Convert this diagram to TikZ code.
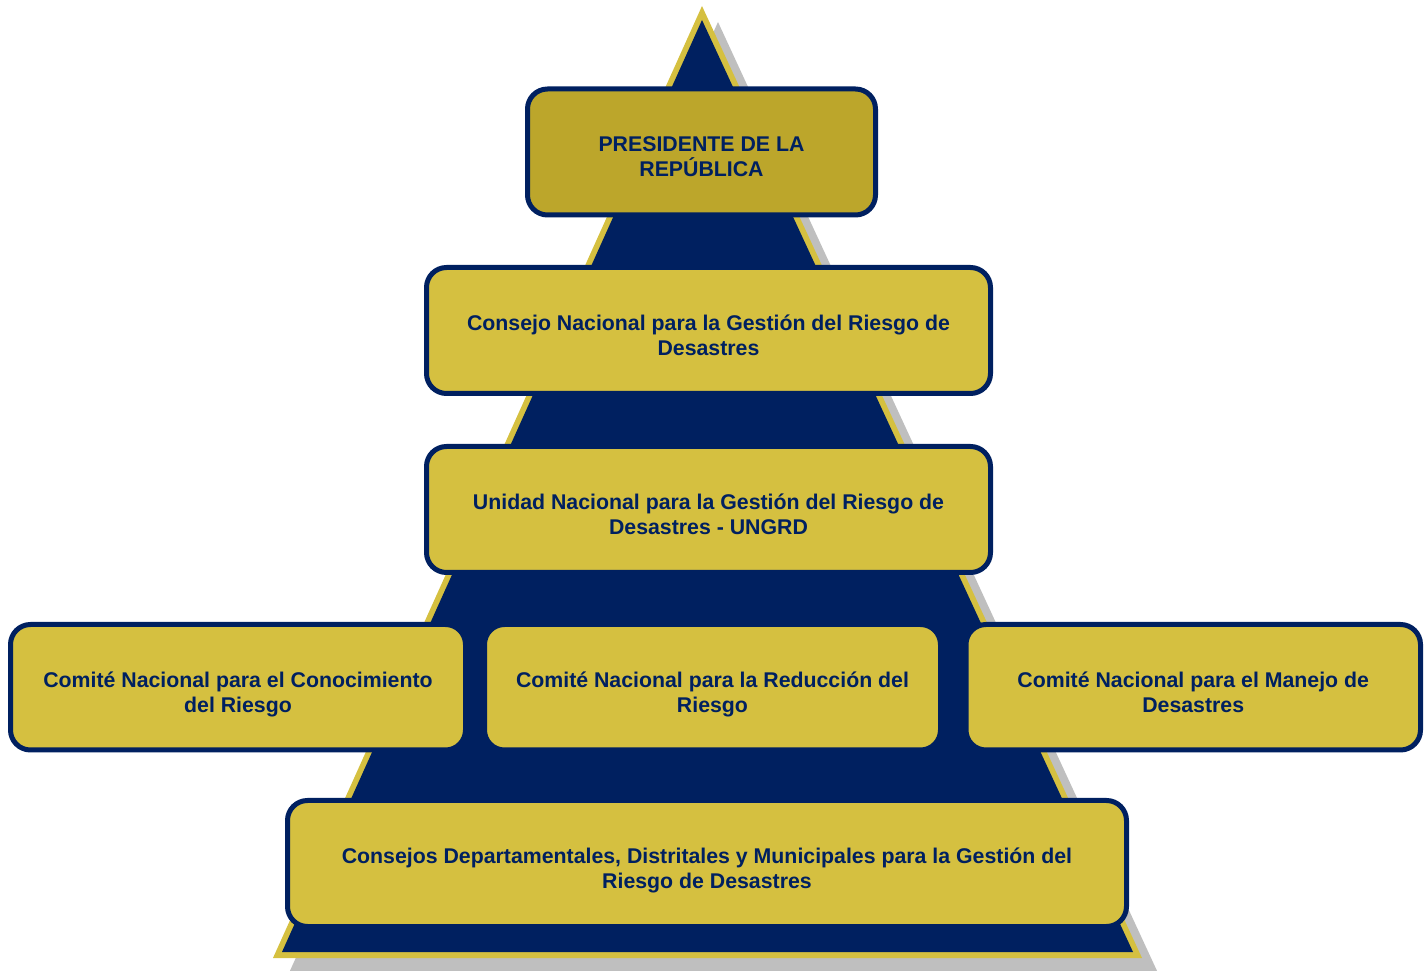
\documentclass[tikz,border=0pt]{standalone}
\usepackage{fontspec}
\setmainfont{Liberation Sans}
\definecolor{navy}{HTML}{002060}
\definecolor{gold}{HTML}{D5C040}
\definecolor{darkgold}{HTML}{BCA62B}
\definecolor{shadowgray}{HTML}{BFBFBF}
\tikzset{
  box/.style={draw=navy, line width=5pt, rounded corners=20pt, fill=gold, inner sep=0pt},
  boxtext/.style={anchor=base, yshift=-25pt, align=center, text=navy, font=\bfseries\fontsize{21.3}{25}\selectfont, inner sep=0pt}
}
\begin{document}
\begin{tikzpicture}[x=1pt,y=1pt]
\useasboundingbox (0,0) rectangle (1428,970);
% pyramid
\fill[shadowgray] (718,948) -- (289,-3) -- (1158,-3) -- cycle;
\fill[gold] (702,964) -- (273,12) -- (1142,12) -- cycle;
\fill[navy] (702,950) -- (282,18) -- (1133,18) -- cycle;
% boxes
\node[box, fill=darkgold, minimum width=348pt, minimum height=126pt] (pres) at (701.5,818) {};
\node[box, minimum width=564pt, minimum height=126pt] (cnsj) at (708.5,639.5) {};
\node[box, minimum width=564pt, minimum height=126pt] (ungrd) at (708.5,460.5) {};
\node[box, minimum width=455pt, minimum height=125.5pt] (ccr) at (238,282.75) {};
\node[box, minimum width=456pt, minimum height=125.5pt] (crr) at (712.5,282.75) {};
\node[box, minimum width=454.5pt, minimum height=125.5pt] (cmd) at (1193.25,282.75) {};
\node[box, minimum width=839pt, minimum height=126pt] (cdm) at (707,106.5) {};
% texts
\node[boxtext] (pres-t) at (pres.center) {PRESIDENTE DE LA\\REPÚBLICA};
\node[boxtext] (cnsj-t) at (cnsj.center) {Consejo Nacional para la Gestión del Riesgo de\\Desastres};
\node[boxtext] (ungrd-t) at (ungrd.center) {Unidad Nacional para la Gestión del Riesgo de\\Desastres - UNGRD};
\node[boxtext] (ccr-t) at (ccr.center) {Comité Nacional para el Conocimiento\\del Riesgo};
\node[boxtext] (crr-t) at (crr.center) {Comité Nacional para la Reducción del\\Riesgo};
\node[boxtext] (cmd-t) at (cmd.center) {Comité Nacional para el Manejo de\\Desastres};
\node[boxtext] (cdm-t) at (cdm.center) {Consejos Departamentales, Distritales y Municipales para la Gestión del\\Riesgo de Desastres};
\end{tikzpicture}
\end{document}
